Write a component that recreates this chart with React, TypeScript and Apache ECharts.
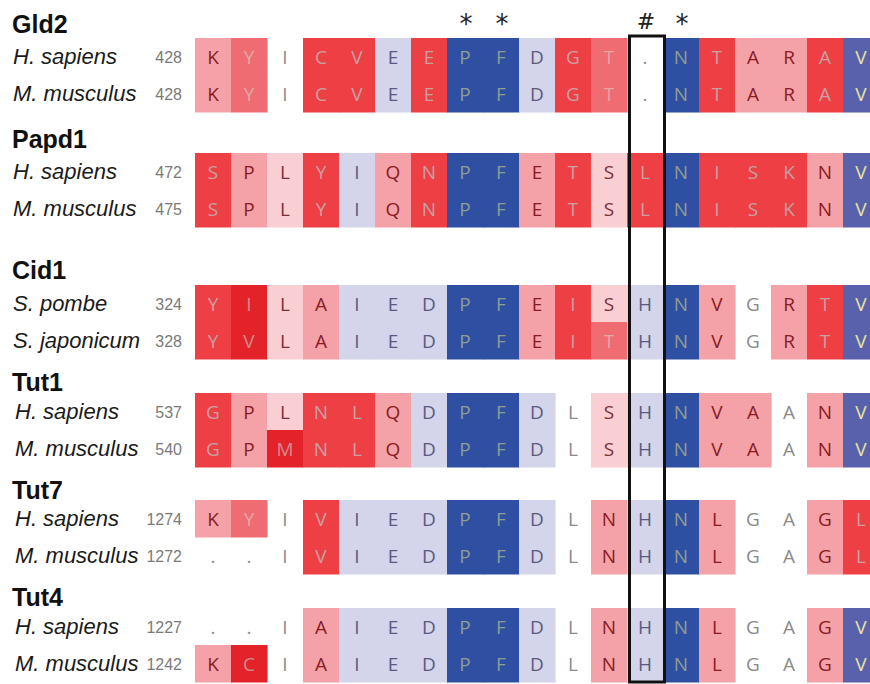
import React, { useEffect, useRef } from "react";
import * as echarts from "echarts";

// ---------- data ----------
const GROUPS = ["Gld2", "Papd1", "Cid1", "Tut1", "Tut7", "Tut4"];
const SPECIES = [
  ["H. sapiens", "M. musculus"],
  ["H. sapiens", "M. musculus"],
  ["S. pombe", "S. japonicum"],
  ["H. sapiens", "M. musculus"],
  ["H. sapiens", "M. musculus"],
  ["H. sapiens", "M. musculus"],
];
const STARTS = [
  [428, 428],
  [472, 475],
  [324, 328],
  [537, 540],
  [1274, 1272],
  [1227, 1242],
];
const SEQUENCES = [
  ["KYICVEEPFDGT.NTARAV", "KYICVEEPFDGT.NTARAV"],
  ["SPLYIQNPFETSLNISKNV", "SPLYIQNPFETSLNISKNV"],
  ["YILAIEDPFEISHNVGRTV", "YVLAIEDPFEITHNVGRTV"],
  ["GPLNLQDPFDLSHNVAANV", "GPMNLQDPFDLSHNVAANV"],
  ["KYIVIEDPFDLNHNLGAGL", "..IVIEDPFDLNHNLGAGL"],
  ["..IAIEDPFDLNHNLGAGV", "KCIAIEDPFDLNHNLGAGV"],
];
// colour class per residue: -3 dark blue ... 0 white ... 5 deep red
const SCORES = [
  [
    [2, 3, 0, 4, 4, -1, 4, -3, -3, -1, 4, 3, 0, -3, 4, 2, 2, 4, -2],
    [2, 3, 0, 4, 4, -1, 4, -3, -3, -1, 4, 3, 0, -3, 4, 2, 2, 4, -2],
  ],
  [
    [4, 2, 1, 4, -1, 2, 4, -3, -3, 2, 4, 1, 4, -3, 4, 4, 4, 2, -2],
    [4, 2, 1, 4, -1, 2, 4, -3, -3, 2, 4, 1, 4, -3, 4, 4, 4, 2, -2],
  ],
  [
    [4, 5, 1, 2, -1, -1, -1, -3, -3, 2, 4, 1, -1, -3, 2, 0, 2, 4, -2],
    [4, 5, 1, 2, -1, -1, -1, -3, -3, 2, 4, 3, -1, -3, 2, 0, 2, 4, -2],
  ],
  [
    [4, 2, 1, 4, 4, 2, -1, -3, -3, -1, 0, 1, -1, -3, 2, 2, 0, 2, -2],
    [4, 2, 5, 4, 4, 2, -1, -3, -3, -1, 0, 1, -1, -3, 2, 2, 0, 2, -2],
  ],
  [
    [2, 3, 0, 4, -1, -1, -1, -3, -3, -1, 0, 2, -1, -3, 2, 0, 0, 2, 4],
    [0, 0, 0, 4, -1, -1, -1, -3, -3, -1, 0, 2, -1, -3, 2, 0, 0, 2, 4],
  ],
  [
    [0, 0, 0, 2, -1, -1, -1, -3, -3, -1, 0, 2, -1, -3, 2, 0, 0, 2, -2],
    [2, 5, 0, 2, -1, -1, -1, -3, -3, -1, 0, 2, -1, -3, 2, 0, 0, 2, -2],
  ],
];
const COLUMNS = Array.from({ length: 19 }, (_, i) => String(i));
const MARK_COLS = [7, 8, 12, 13];
const MARK_SYMBOLS = ["*", "*", "#", "*"];
const BOX_COL = 12;

// ---------- layout / style ----------
const W = 870;
const H = 684;
const CHART_W = 884;
const ROW_H = 37;
const GROUP_TOP = [38, 153, 285, 393, 500, 608];
const HEADER_Y = [24, 139, 270, 382, 490, 597];
const MARK_Y = 20;
const BOX_TOP = 36;
const BOX_BOTTOM = 682;

const FILL: Record<string, string> = {
  "-3": "#2e4fa2",
  "-2": "#5961ad",
  "-1": "#d4d4ea",
  "0": "none",
  "1": "#f9cfd3",
  "2": "#f4a2a7",
  "3": "#ef6c72",
  "4": "#ee3f44",
  "5": "#e3222a",
};
const INK: Record<string, string> = {
  "-3": "#8f9d94",
  "-2": "#e6e49e",
  "-1": "#5a5a80",
  "0": "#8a8a8a",
  "1": "#7a3036",
  "2": "#8a1b24",
  "3": "#e2a6a7",
  "4": "#c9a0a2",
  "5": "#d38a8c",
};

type Cell = { col: number; y: number; score: number; letter: string };

const CELLS: Cell[] = [];
SEQUENCES.forEach((pair, g) => {
  pair.forEach((seq, r) => {
    seq.split("").forEach((letter, col) => {
      CELLS.push({ col, y: GROUP_TOP[g] + r * ROW_H, score: SCORES[g][r][col], letter });
    });
  });
});

export default function App() {
  const ref = useRef<HTMLDivElement>(null);
  useEffect(() => {
    if (!ref.current) return;
    const chart = echarts.init(ref.current, undefined, { renderer: "svg" });

    const graphics: any[] = [];
    GROUPS.forEach((name, g) => {
      graphics.push({
        type: "text",
        x: 12,
        y: HEADER_Y[g],
        style: {
          text: name,
          fill: "#111",
          font: "bold 25px 'Liberation Sans', Arial, sans-serif",
          verticalAlign: "middle",
          align: "left",
        },
      });
      SPECIES[g].forEach((sp, r) => {
        const cy = GROUP_TOP[g] + r * ROW_H + ROW_H / 2;
        const indent = g >= 3 ? 15 : 13;
        graphics.push({
          type: "text",
          x: indent,
          y: cy,
          style: {
            text: sp,
            fill: "#1a1a1a",
            font: "italic 22px 'Liberation Sans', Arial, sans-serif",
            verticalAlign: "middle",
            align: "left",
          },
        });
        graphics.push({
          type: "text",
          x: 182,
          y: cy + 1,
          style: {
            text: String(STARTS[g][r]),
            fill: "#7a7a7a",
            font: "16px 'Liberation Sans', Arial, sans-serif",
            verticalAlign: "middle",
            align: "right",
          },
        });
      });
    });

    chart.setOption({
      animation: false,
      grid: { left: 195, top: 0, width: 19 * 36, height: H },
      xAxis: {
        type: "category",
        data: COLUMNS,
        show: false,
        boundaryGap: true,
      },
      yAxis: { type: "value", min: 0, max: H, inverse: true, show: false },
      graphic: graphics,
      series: [
        {
          type: "custom",
          silent: true,
          clip: false,
          data: CELLS.map((c) => [c.col, c.y]),
          encode: { x: 0, y: 1 },
          renderItem: (params: any, api: any) => {
            const cell = CELLS[params.dataIndex];
            const p0 = api.coord([api.value(0), api.value(1)]);
            const p1 = api.coord([api.value(0), api.value(1) + ROW_H]);
            const w = api.size([1, 0])[0];
            const h = Math.abs(p1[1] - p0[1]);
            const key = String(cell.score);
            const children: any[] = [];
            if (cell.score !== 0) {
              children.push({
                type: "rect",
                shape: { x: p0[0] - w / 2, y: p0[1], width: w + 0.6, height: h + 0.6 },
                style: { fill: FILL[key] },
              });
            }
            children.push({
              type: "text",
              style: {
                text: cell.letter,
                x: p0[0],
                y: p0[1] + h / 2,
                align: "center",
                verticalAlign: "middle",
                fill: INK[key],
                font: "19px 'Open Sans', 'Noto Sans', sans-serif",
              },
            });
            return { type: "group", children };
          },
          z: 1,
        },
        {
          type: "custom",
          silent: true,
          clip: false,
          data: [[BOX_COL, BOX_TOP, BOX_BOTTOM]],
          encode: { x: 0, y: 1 },
          renderItem: (params: any, api: any) => {
            const top = api.coord([api.value(0), api.value(1)]);
            const bot = api.coord([api.value(0), api.value(2)]);
            const w = api.size([1, 0])[0];
            return {
              type: "rect",
              shape: { x: top[0] - w / 2 + 2.5, y: top[1], width: w - 1, height: bot[1] - top[1] },
              style: { fill: "none", stroke: "#111", lineWidth: 3 },
            };
          },
          z: 3,
        },
        {
          type: "custom",
          silent: true,
          clip: false,
          data: MARK_COLS.map((c) => [c, MARK_Y]),
          encode: { x: 0, y: 1 },
          renderItem: (params: any, api: any) => {
            const p = api.coord([api.value(0), api.value(1)]);
            const sym = MARK_SYMBOLS[params.dataIndex];
            return {
              type: "text",
              style: {
                text: sym,
                x: p[0] + 1,
                y: sym === "#" ? p[1] + 1 : p[1] + 4,
                align: "center",
                verticalAlign: "middle",
                fill: "#222",
                font: sym === "#" ? "22px 'DejaVu Serif', serif" : "26px 'DejaVu Sans', sans-serif",
              },
            };
          },
          z: 3,
        },
      ],
    });
    return () => chart.dispose();
  }, []);
  return (
    <div
      style={{
        position: "fixed",
        left: 0,
        top: 0,
        width: W,
        height: H,
        overflow: "hidden",
        background: "#fff",
      }}
    >
      <div ref={ref} style={{ width: CHART_W, height: H }} />
    </div>
  );
}
